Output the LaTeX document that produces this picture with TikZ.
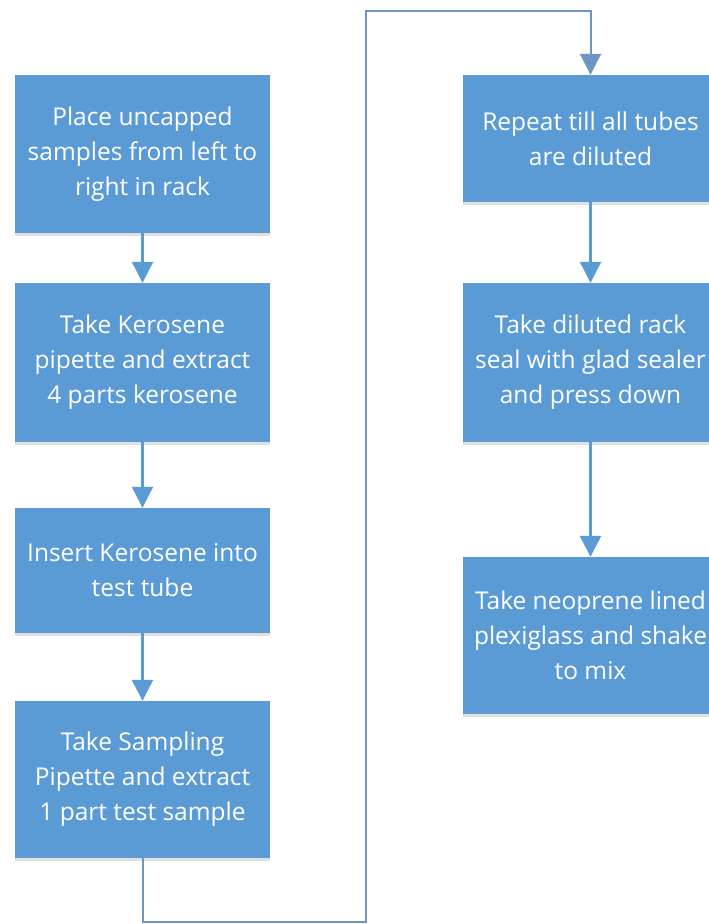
\documentclass[tikz,border=0pt]{standalone}
\usepackage{fontspec}
\setmainfont{Open Sans}
\usetikzlibrary{arrows.meta,shadows}
\definecolor{boxblue}{HTML}{5B9BD5}
\definecolor{lineblue}{HTML}{5B9BD5}
\definecolor{loopblue}{HTML}{6F95C4}
\tikzset{
  stepbox/.style={fill=boxblue, draw=none, minimum width=255pt, text=white,
    align=center, inner sep=0pt,
    font=\fontsize{24.5pt}{35pt}\selectfont,
    drop shadow={shadow xshift=0pt, shadow yshift=-3pt, opacity=0.12, fill=black}},
  flow/.style={draw=lineblue, line width=2.2pt, -{Triangle[width=21pt,length=21pt]}},
  loopflow/.style={draw=loopblue, line width=2pt, -{Triangle[width=21pt,length=21pt]}}
}
\begin{document}
\begin{tikzpicture}[x=1pt,y=-1pt]
\useasboundingbox (0,0) rectangle (709,924);
\clip (0,0) rectangle (709,924);
\fill[white] (0,0) rectangle (709,924);
% left column
\node[stepbox, minimum height=158pt] (b1) at (142.5,154) {Place uncapped\\samples from left to\\right in rack};
\node[stepbox, minimum height=159pt] (b2) at (142.5,362.5) {Take Kerosene\\pipette and extract\\4 parts kerosene};
\node[stepbox, minimum height=125pt] (b3) at (142.5,570.5) {Insert Kerosene into\\test tube};
\node[stepbox, minimum height=157pt] (b4) at (142.5,779.5) {Take Sampling\\Pipette and extract\\1 part test sample};
% right column
\node[stepbox, minimum height=127pt] (r1) at (590.5,138.5) {Repeat till all tubes\\are diluted};
\node[stepbox, minimum height=159pt] (r2) at (590.5,362.5) {Take diluted rack\\seal with glad sealer\\and press down};
\node[stepbox, minimum height=157pt] (r3) at (590.5,635.5) {Take neoprene lined\\plexiglass and shake\\to mix};
% connectors
\draw[flow] (b1) -- (b2);
\draw[flow] (b2) -- (b3);
\draw[flow] (b3) -- (b4);
\coordinate (lb) at (366,922);
\coordinate (lt) at (366,11);
\draw[loopflow] (b4.south) |- (lb) -- (lt) -| (r1.north);
\draw[flow] (r1) -- (r2);
\draw[flow] (r2) -- (r3);
\end{tikzpicture}
\end{document}
